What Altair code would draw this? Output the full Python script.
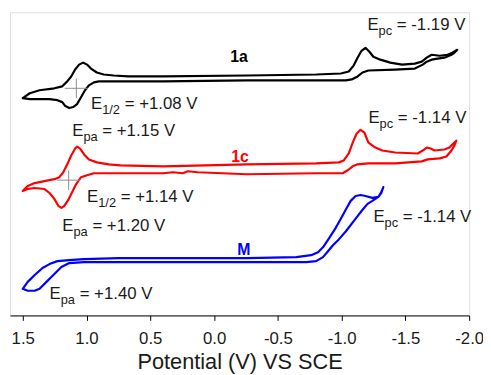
import altair as alt
import pandas as pd

# ---- cyclic voltammograms: potential (V vs SCE) and current (a.u., stacked offsets) ----
black_E = [1.50, 1.445, 1.368, 1.252, 1.190, 1.151, 1.120, 1.089, 1.058, 1.027, 0.996, 0.965, 0.919, 0.865,
           0.787, 0.671, 0.400, -0.258, -0.800, -0.994, -1.056, -1.094, -1.125, -1.156, -1.187, -1.218,
           -1.249, -1.303, -1.381, -1.474, -1.574, -1.628, -1.667, -1.706, -1.768, -1.830, -1.868, -1.907,
           -1.884, -1.861, -1.806, -1.752, -1.706, -1.667, -1.636, -1.574, -1.419, -1.210, -1.164, -1.125,
           -1.079, -1.032, -0.800, -0.258, 0.400, 0.903, 0.942, 0.981, 1.012, 1.043, 1.074, 1.105, 1.135,
           1.166, 1.190, 1.228, 1.290, 1.368, 1.445, 1.50]
black_I = [220, 225, 228, 230, 232, 237, 242, 249, 254, 256, 254, 250, 246, 244,
           243, 242, 242, 243, 244, 245, 247, 253, 261, 268, 271, 267,
           262, 259, 256, 254, 255, 257, 261, 264, 263, 264, 266, 269,
           266, 264, 261, 260, 259, 257, 254, 250, 249, 248, 246, 242,
           239, 238, 238, 238, 237, 237, 236, 233, 228, 221, 214, 211, 210,
           212, 216, 218, 219, 219, 219, 220]

red_E = [1.50, 1.461, 1.406, 1.329, 1.252, 1.213, 1.182, 1.151, 1.120, 1.089, 1.074, 1.050, 1.019, 0.981,
         0.919, 0.826, 0.733, 0.400, -0.258, -0.800, -0.978, -1.017, -1.056, -1.087, -1.117, -1.148,
         -1.179, -1.210, -1.264, -1.319, -1.419, -1.597, -1.636, -1.667, -1.698, -1.729, -1.806, -1.845,
         -1.876, -1.899, -1.884, -1.861, -1.822, -1.768, -1.675, -1.628, -1.419, -1.210, -1.125, -1.087,
         -1.048, -1.009, -0.800, -0.258, 0.129, 0.206, 0.245, 0.323, 0.400, 0.787, 0.942, 0.996, 1.043,
         1.081, 1.112, 1.143, 1.174, 1.197, 1.221, 1.252, 1.290, 1.329, 1.406, 1.461, 1.50]
red_I = [126, 131, 134, 136, 138, 140, 145, 153, 162, 169, 171, 169, 163, 158,
         155, 153, 152, 151, 153, 154, 155, 157, 164, 175, 184, 188,
         185, 175, 170, 167, 165, 164, 167, 170, 169, 167, 168, 170,
         174, 177, 172, 167, 161, 159, 158, 156, 154, 154, 153, 151,
         147, 144, 144, 143, 145, 146, 144, 145, 144, 144, 144, 142, 140,
         133, 125, 117, 111, 109, 111, 118, 124, 128, 129, 128, 126]

blue_E = [1.50, 1.461, 1.406, 1.345, 1.290, 1.228, 1.135, 1.019, 0.748, 0.323, -0.258, -0.645, -0.761,
          -0.815, -0.854, -0.901, -0.955, -0.994, -1.032, -1.071, -1.110, -1.148, -1.187, -1.241, -1.288,
          -1.311, -1.327, -1.311, -1.288, -1.241, -1.203, -1.164, -1.110, -1.032, -0.978, -0.932, -0.893,
          -0.854, -0.800, -0.723, -0.258, 0.323, 1.019, 1.135, 1.197, 1.252, 1.314, 1.368, 1.406, 1.461, 1.50]
blue_I = [27, 34, 41, 48, 52, 55, 56, 57, 58, 58, 58, 59, 61,
          64, 69, 78, 89, 98, 107, 116, 121, 122, 121, 119, 120,
          125, 130, 124, 120, 116, 113, 107, 98, 85, 77, 71, 65,
          59, 55, 54, 54, 54, 54, 53, 49, 42, 34, 27, 25, 25, 27]

series_names = ["1a", "1c", "M"]
series_colors = ["#000000", "#ff0000", "#0000ff"]

# ---- annotations (anchor potential, anchor current) ----
ann_E = [-1.202, 0.965, 1.112, -1.210, 0.996, 1.190, -1.249, 1.290]
ann_I = [289, 209, 182, 195, 115, 85, 95, 17]
ann_sub = ["pc", "1/2", "pa", "pc", "1/2", "pa", "pc", "pa"]
ann_rest = ["= -1.19 V", "= +1.08 V", "= +1.15 V", "= -1.14 V", "= +1.14 V", "= +1.20 V",
            "= -1.14 V", "= +1.40 V"]

lab_E = [-0.127, -0.134, -0.181]
lab_I = [257, 155, 61]

cross_E = [1.08, 1.14]
cross_I = [230, 137]

tick_values = [1.5, 1.25, 1.0, 0.75, 0.5, 0.25, 0.0, -0.25, -0.5, -0.75, -1.0, -1.25, -1.5, -1.75, -2.0]

FONT = "Liberation Sans"
TXT = "#1a1a1a"
MAIN_FS = 17
SUB_FS = 13

rows = []
for name, Es, Is in zip(series_names, [black_E, red_E, blue_E], [black_I, red_I, blue_I]):
    for k, (e, i) in enumerate(zip(Es, Is)):
        rows.append({"series": name, "E": e, "I": i, "k": k})
curves = pd.DataFrame(rows)

ann = pd.DataFrame({"E": ann_E, "I": ann_I, "sub": ann_sub, "rest": ann_rest, "main": "E"})
labs = pd.DataFrame({"E": lab_E, "I": lab_I, "name": series_names})
cross = pd.DataFrame({"E": cross_E, "I": cross_I})

xscale = alt.Scale(domain=[1.6, -2.0], nice=False, zero=False)
yscale = alt.Scale(domain=[0, 307], nice=False, zero=False)

major = "abs(datum.value*2 - round(datum.value*2)) < 0.01"
xaxis = alt.Axis(
    values=tick_values,
    labelExpr=f"{major} ? replace(format(datum.value, '.1f'), '\u2212', '-') : ''",
    tickSize={"condition": {"test": major, "value": 5}, "value": 3},
    grid=False, domainColor="#000000", tickColor="#000000", domainWidth=1, tickWidth=1,
    labelFont=FONT, labelFontSize=17, labelColor=TXT, labelPadding=10, labelFlush=False,
    title="Potential (V) VS SCE", titleFont=FONT, titleFontSize=22, titleFontWeight="normal",
    titleColor=TXT, titlePadding=6,
)

X = alt.X("E:Q", scale=xscale, axis=xaxis)
Y = alt.Y("I:Q", scale=yscale, axis=None)

lines = alt.Chart(curves).mark_line(strokeWidth=2.2, strokeJoin="round", strokeCap="round").encode(
    x=X, y=Y,
    color=alt.Color("series:N", scale=alt.Scale(domain=series_names, range=series_colors), legend=None),
    detail="series:N",
    order="k:Q",
)

hcross = alt.Chart(cross).transform_calculate(x1="datum.E + 0.09", x2="datum.E - 0.09").mark_rule(
    color="#8c8c8c", strokeWidth=1).encode(x=alt.X("x1:Q", scale=xscale), x2="x2:Q", y=alt.Y("I:Q", scale=yscale))
vcross = alt.Chart(cross).transform_calculate(y1="datum.I - 10", y2="datum.I + 10").mark_rule(
    color="#8c8c8c", strokeWidth=1).encode(x=alt.X("E:Q", scale=xscale), y=alt.Y("y1:Q", scale=yscale), y2="y2:Q")

E_W = 0.667 * MAIN_FS
SPACE_W = 0.278 * MAIN_FS
char_w = {"p": 0.556, "c": 0.5, "a": 0.556, "1": 0.556, "/": 0.278, "2": 0.556}

txt_main = alt.Chart(ann).mark_text(align="left", baseline="alphabetic", font=FONT, fontSize=MAIN_FS,
                                    color=TXT).encode(x=alt.X("E:Q", scale=xscale), y=alt.Y("I:Q", scale=yscale), text="main:N")
txt_sub = alt.Chart(ann).mark_text(align="left", baseline="alphabetic", font=FONT, fontSize=SUB_FS,
                                   color=TXT, dx=E_W, dy=5).encode(
    x=alt.X("E:Q", scale=xscale), y=alt.Y("I:Q", scale=yscale), text="sub:N")
rest_layers = []
for s in sorted(set(ann_sub)):
    w = E_W + sum(char_w[c] for c in s) * SUB_FS + SPACE_W
    rest_layers.append(
        alt.Chart(ann).transform_filter(alt.datum.sub == s).mark_text(
            align="left", baseline="alphabetic", font=FONT, fontSize=MAIN_FS, color=TXT, dx=w).encode(
            x=alt.X("E:Q", scale=xscale), y=alt.Y("I:Q", scale=yscale), text="rest:N"))

labels = alt.Chart(labs).mark_text(align="left", baseline="alphabetic", font=FONT, fontSize=16,
                                   fontWeight="bold").encode(
    x=alt.X("E:Q", scale=xscale), y=alt.Y("I:Q", scale=yscale), text="name:N",
    color=alt.Color("name:N", scale=alt.Scale(domain=series_names, range=series_colors), legend=None))

chart = alt.layer(lines, hcross, vcross, txt_main, txt_sub, *rest_layers, labels).properties(
    width=465, height=307,
    autosize=alt.AutoSizeParams(type="none"),
    padding={"left": 2, "top": 2, "right": 14, "bottom": 58},
).configure_view(stroke=None).configure(background="white")

chart.save("out.html", embed_options={"renderer": "svg", "actions": False})
